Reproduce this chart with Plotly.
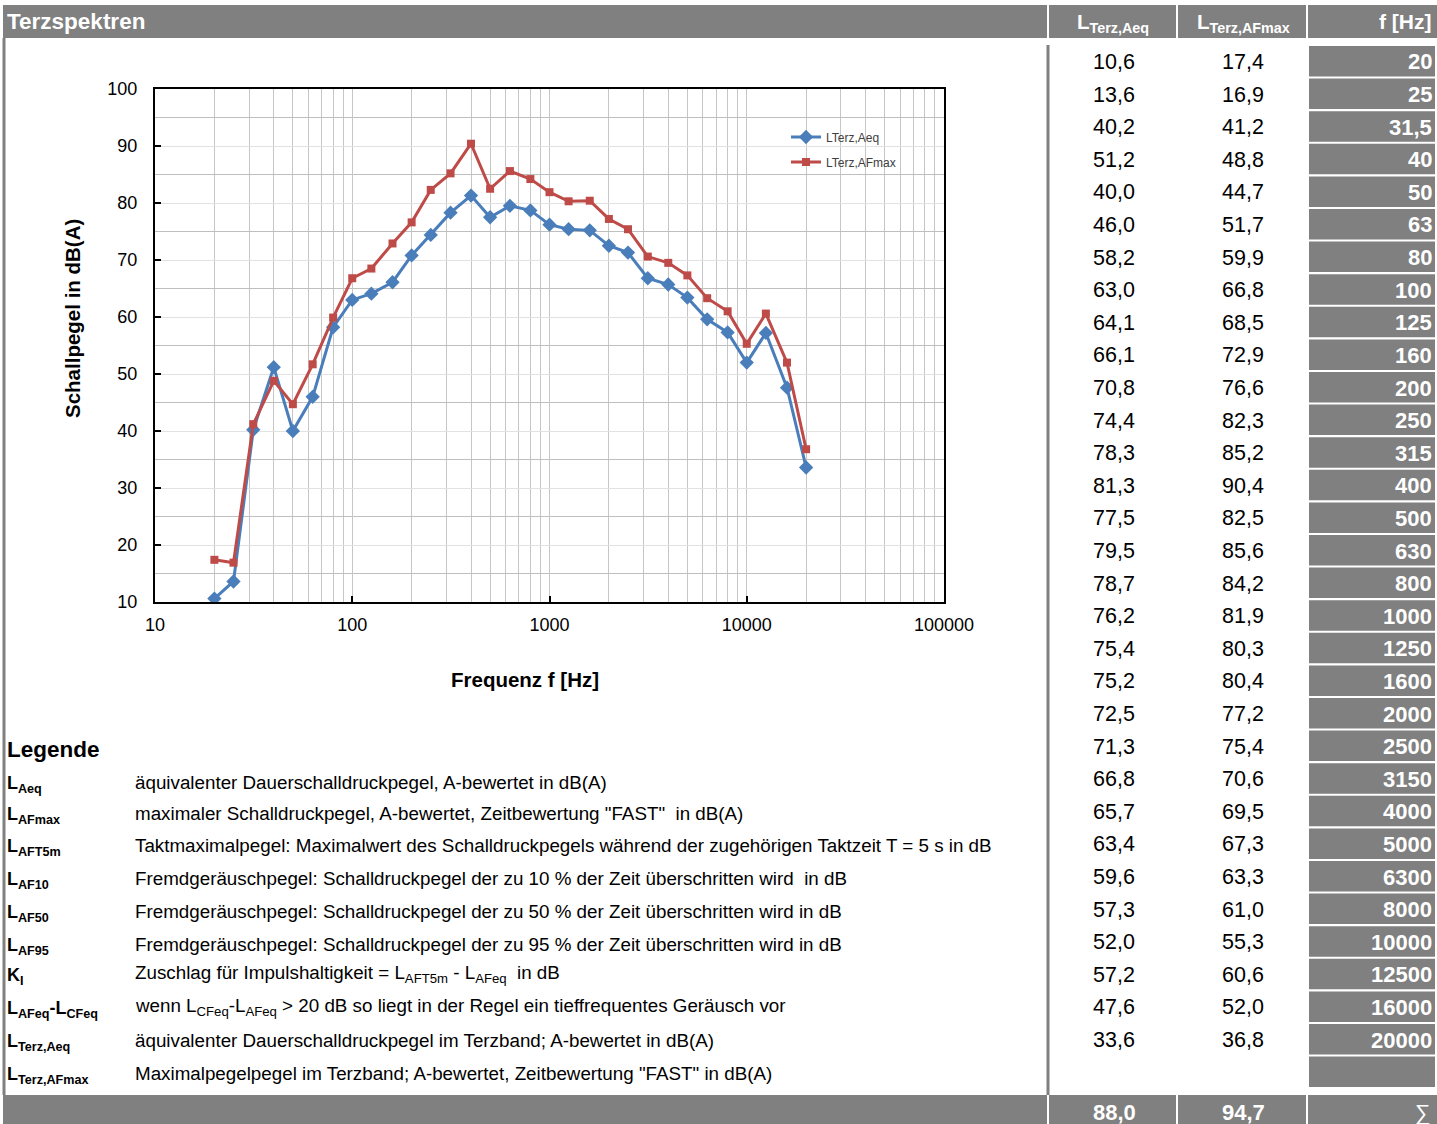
import plotly.graph_objects as go

W, H = 1437, 1124
FONT = "Liberation Sans, Arial, sans-serif"
GRAY = "#808080"
BLUE = "#4A7EBB"
RED = "#BE4B48"

# ---------------- data ----------------
freq = [20, 25, 31.5, 40, 50, 63, 80, 100, 125, 160, 200, 250, 315, 400, 500, 630,
        800, 1000, 1250, 1600, 2000, 2500, 3150, 4000, 5000, 6300, 8000, 10000,
        12500, 16000, 20000]
l_aeq = [10.6, 13.6, 40.2, 51.2, 40.0, 46.0, 58.2, 63.0, 64.1, 66.1, 70.8, 74.4,
         78.3, 81.3, 77.5, 79.5, 78.7, 76.2, 75.4, 75.2, 72.5, 71.3, 66.8, 65.7,
         63.4, 59.6, 57.3, 52.0, 57.2, 47.6, 33.6]
l_afmax = [17.4, 16.9, 41.2, 48.8, 44.7, 51.7, 59.9, 66.8, 68.5, 72.9, 76.6, 82.3,
           85.2, 90.4, 82.5, 85.6, 84.2, 81.9, 80.3, 80.4, 77.2, 75.4, 70.6, 69.5,
           67.3, 63.3, 61.0, 55.3, 60.6, 52.0, 36.8]
totals = [88.0, 94.7]
x_ticks = [10, 100, 1000, 10000, 100000]
y_ticks = [10, 20, 30, 40, 50, 60, 70, 80, 90, 100]

legend_symbols = ["L<sub>Aeq</sub>", "L<sub>AFmax</sub>", "L<sub>AFT5m</sub>",
                  "L<sub>AF10</sub>", "L<sub>AF50</sub>", "L<sub>AF95</sub>",
                  "K<sub>I</sub>", "L<sub>AFeq</sub>-L<sub>CFeq</sub>",
                  "L<sub>Terz,Aeq</sub>", "L<sub>Terz,AFmax</sub>"]
legend_texts = [
    "äquivalenter Dauerschalldruckpegel, A-bewertet in dB(A)",
    "maximaler Schalldruckpegel, A-bewertet, Zeitbewertung \"FAST\"  in dB(A)",
    "Taktmaximalpegel: Maximalwert des Schalldruckpegels während der zugehörigen Taktzeit T = 5 s in dB",
    "Fremdgeräuschpegel: Schalldruckpegel der zu 10 % der Zeit überschritten wird  in dB",
    "Fremdgeräuschpegel: Schalldruckpegel der zu 50 % der Zeit überschritten wird in dB",
    "Fremdgeräuschpegel: Schalldruckpegel der zu 95 % der Zeit überschritten wird in dB",
    "Zuschlag für Impulshaltigkeit = L<sub>AFT5m</sub> - L<sub>AFeq</sub>  in dB",
    "wenn L<sub>CFeq</sub>-L<sub>AFeq</sub> > 20 dB so liegt in der Regel ein tieffrequentes Geräusch vor",
    "äquivalenter Dauerschalldruckpegel im Terzband; A-bewertet in dB(A)",
    "Maximalpegelpegel im Terzband; A-bewertet, Zeitbewertung \"FAST\" in dB(A)",
]


def px(x):
    return x / W


def py(y):
    return 1 - y / H


def de(v):
    return f"{v:.1f}".replace(".", ",")


def fl(v):
    return (f"{v:g}").replace(".", ",")


fig = go.Figure()
fig.add_trace(go.Scatter(x=freq, y=l_aeq, mode="lines+markers", name="LTerz,Aeq",
                         line=dict(color=BLUE, width=3),
                         marker=dict(symbol="diamond", size=11, color=BLUE),
                         legend="legend"))
fig.add_trace(go.Scatter(x=freq, y=l_afmax, mode="lines+markers", name="LTerz,AFmax",
                         line=dict(color=RED, width=3),
                         marker=dict(symbol="square", size=8, color=RED),
                         legend="legend2"))

shapes = []
ann = []


def rect(x0, y0, x1, y1, color):
    shapes.append(dict(type="rect", xref="paper", yref="paper", x0=px(x0), x1=px(x1),
                       y0=py(y1), y1=py(y0), fillcolor=color, line=dict(width=0),
                       layer="below"))


def vline(x, y0, y1, color, w):
    shapes.append(dict(type="line", xref="paper", yref="paper", x0=px(x), x1=px(x),
                       y0=py(y0), y1=py(y1), line=dict(color=color, width=w),
                       layer="above"))


def text(x, y, t, size, color="black", xanchor="left", bold=False, angle=0):
    if bold:
        t = f"<b>{t}</b>"
    ann.append(dict(x=px(x), y=py(y), xref="paper", yref="paper", text=t,
                    showarrow=False, xanchor=xanchor, yanchor="middle",
                    textangle=angle, font=dict(family=FONT, size=size, color=color)))


# header bar
rect(3, 5, W, 38, GRAY)
for xs in (1048, 1177, 1307):
    vline(xs, 5, 38, "white", 2)
text(5, 22, "Terzspektren", 22.5, "white", bold=True)
text(1113, 23, "L<sub>Terz,Aeq</sub>", 20.5, "white", "center", bold=True)
text(1243, 23, "L<sub>Terz,AFmax</sub>", 20.5, "white", "center", bold=True)
text(1433, 22, "f [Hz]", 21, "white", "right", bold=True)

# borders
vline(4, 38, 1095, GRAY, 3)
vline(1048, 45, 1095, GRAY, 3)

# table rows
ROW0, STEP = 46, 32.6
for i, f in enumerate(freq):
    top = ROW0 + STEP * i
    rect(1309, top, 1435, top + 30.5, GRAY)
    cy = top + 16
    text(1114, cy, de(l_aeq[i]), 21.5, "black", "center")
    text(1243, cy, de(l_afmax[i]), 21.5, "black", "center")
    text(1434, cy, fl(f), 22, "white", "right", bold=True)
top = ROW0 + STEP * len(freq)
rect(1309, top, 1435, top + 30.5, GRAY)

# bottom bar
rect(3, 1095, W, H, GRAY)
for xs in (1048, 1177, 1307):
    vline(xs, 1095, H, "white", 2)
text(1114, 1112, de(totals[0]), 22, "white", "center", bold=True)
text(1243, 1112, de(totals[1]), 22, "white", "center", bold=True)
text(1433, 1112, "∑", 22, "white", "right")

# legend text block
text(5, 749, "Legende", 22.5, bold=True)
leg_y = [782, 813, 845, 878, 911, 944, 974, 1007, 1040, 1073]
for yy, s, t in zip(leg_y, legend_symbols, legend_texts):
    text(5, yy + 2, s, 18, bold=True)
    text(133, yy, t, 18.8)

# axis titles
text(525, 679, "Frequenz f [Hz]", 20.5, xanchor="center", bold=True)
text(72, 319, "Schallpegel in dB(A)", 20.5, xanchor="center", bold=True, angle=-90)

minor_x = [k * 10 ** n for n in range(1, 5) for k in range(2, 10)]

fig.update_layout(
    width=W, height=H, margin=dict(l=0, r=0, t=0, b=0, pad=0, autoexpand=False),
    paper_bgcolor="white", plot_bgcolor="white",
    shapes=shapes, annotations=ann,
    font=dict(family=FONT),
    xaxis=dict(type="log", range=[1, 5], domain=[px(155), px(944)],
               tickvals=x_ticks, ticktext=[str(v) for v in x_ticks],
               ticks="inside", ticklen=6, tickcolor="black", tickwidth=1.5,
               showline=True, linecolor="black", linewidth=2, mirror=True,
               showgrid=True, gridcolor="#c6c6c6", gridwidth=1,
               minor=dict(tickvals=minor_x, showgrid=True, gridcolor="#c6c6c6",
                          gridwidth=1, ticks=""),
               tickfont=dict(size=18, color="black"), ticklabelstandoff=5,
               zeroline=False, automargin=False),
    yaxis=dict(range=[10, 100], domain=[py(602), py(89)],
               tickvals=y_ticks, ticks="inside", ticklen=6, tickcolor="black",
               tickwidth=1.5,
               showline=True, linecolor="black", linewidth=2, mirror=True,
               showgrid=True, gridcolor="#e2e2e2", gridwidth=1,
               minor=dict(dtick=5, showgrid=True, gridcolor="#bfbfbf", gridwidth=1,
                          ticks=""),
               tickfont=dict(size=18, color="black"), ticklabelstandoff=12,
               zeroline=False, automargin=False),
    legend=dict(x=px(786), y=py(137), xanchor="left", yanchor="middle",
                bgcolor="rgba(0,0,0,0)", font=dict(size=12, color="#404040"),
                itemwidth=30),
    legend2=dict(x=px(786), y=py(162), xanchor="left", yanchor="middle",
                 bgcolor="rgba(0,0,0,0)", font=dict(size=12, color="#404040"),
                 itemwidth=30),
    showlegend=True,
)

fig.write_html(
    "out.html",
    config={"displayModeBar": False},
    post_script="document.body.style.margin='0';document.body.style.padding='0';"
                "document.documentElement.style.overflow='hidden';",
)
